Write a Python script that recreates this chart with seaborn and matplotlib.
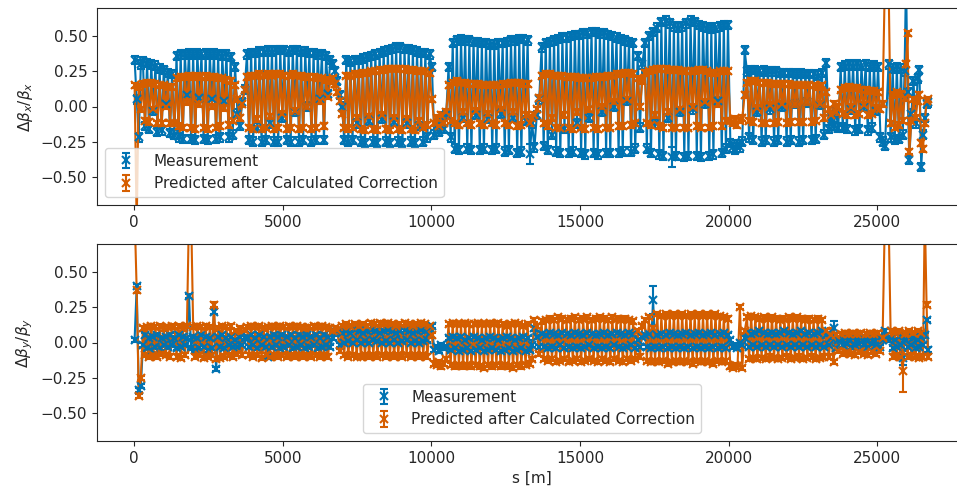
import numpy as np
import matplotlib
matplotlib.use("Agg")
import matplotlib.pyplot as plt
import seaborn as sns

# ---------------- data ----------------
# BPM longitudinal positions s [m]
s_pos = [
    20, 90, 160, 230,
    300, 370, 440, 510, 580, 650, 720, 790, 860, 930, 1000, 1070, 1140, 1210, 1280,
    1360, 1430, 1500, 1570, 1640, 1710, 1780, 1850, 1920, 1990, 2060, 2130, 2200, 2270, 2340,
    2410, 2480, 2550, 2620, 2690, 2760, 2830, 2900, 2970, 3040, 3110, 3180, 3250, 3320,
    3400, 3480, 3560, 3640, 3720,
    3800, 3870, 3940, 4010, 4080, 4150, 4220, 4290, 4360, 4430, 4500, 4570, 4640, 4710, 4780,
    4850, 4920, 4990, 5060, 5130, 5200, 5270, 5340, 5410, 5480, 5550, 5620, 5690, 5760, 5830,
    5900, 5970, 6040, 6110, 6180, 6250, 6320, 6390, 6460, 6530, 6600,
    6680, 6760, 6840, 6920,
    7000, 7070, 7140, 7210, 7280, 7350, 7420, 7490, 7560, 7630, 7700, 7770, 7840, 7910, 7980,
    8050, 8120, 8190, 8260, 8330, 8400, 8470, 8540, 8610, 8680, 8750, 8820, 8890, 8960, 9030,
    9100, 9170, 9240, 9310, 9380, 9450, 9520, 9590, 9660, 9730, 9800, 9870, 9940,
    10020, 10100, 10180, 10260, 10340, 10420, 10500,
    10580, 10650, 10720, 10790, 10860, 10930, 11000, 11070, 11140, 11210, 11280, 11350, 11420,
    11490, 11560, 11630, 11700, 11770, 11840, 11910, 11980, 12050, 12120, 12190, 12260, 12330,
    12400, 12470, 12540, 12610, 12680, 12750, 12820, 12890, 12960, 13030, 13100, 13170, 13240, 13310,
    13390, 13470, 13550, 13630,
    13710, 13780, 13850, 13920, 13990, 14060, 14130, 14200, 14270, 14340, 14410, 14480, 14550,
    14620, 14690, 14760, 14830, 14900, 14970, 15040, 15110, 15180, 15250, 15320, 15390, 15460,
    15530, 15600, 15670, 15740, 15810, 15880, 15950, 16020, 16090, 16160, 16230, 16300, 16370,
    16440, 16510, 16580, 16650, 16720, 16790, 16860,
    16940, 17020, 17100,
    17180, 17250, 17320, 17390, 17460, 17530, 17600, 17670, 17740, 17810, 17880, 17950, 18020,
    18090, 18160, 18230, 18300, 18370, 18440, 18510, 18580, 18650, 18720, 18790, 18860, 18930,
    19000, 19070, 19140, 19210, 19280, 19350, 19420, 19490, 19560, 19630, 19700, 19770, 19840,
    19910, 19980,
    20060, 20140, 20220, 20300, 20380, 20460, 20540,
    20620, 20690, 20760, 20830, 20900, 20970, 21040, 21110, 21180, 21250, 21320, 21390, 21460,
    21530, 21600, 21670, 21740, 21810, 21880, 21950, 22020, 22090, 22160, 22230, 22300, 22370,
    22440, 22510, 22580, 22650, 22720, 22790, 22860, 22930, 23000, 23070, 23140, 23210,
    23290, 23370, 23450, 23530, 23610, 23690,
    23770, 23840, 23910, 23980, 24050, 24120, 24190, 24260, 24330, 24400, 24470, 24540, 24610,
    24680, 24750, 24820, 24890, 24960, 25030,
    25110, 25180, 25260, 25380,
    25450, 25520, 25590, 25660, 25730, 25800, 25860, 25920,
    25970, 26020, 26080, 26150, 26220, 26290, 26360, 26420, 26480, 26540, 26600, 26660, 26710,
]

# horizontal beta-beating, measurement (x 0.01)
bx_meas = [
    33, 5, -22, 30,
    32, -14, 31, -16, 30, -3, 29, -18, 27, -17, 26, 2, 24, -19, 23,
    -20, 36, -22, 37, -23, 37, 8, 38, -23, 37, -24, 38, 6, 37, -23, 38, -24, 37, 5, 38,
    -23, 37, -22, 36, 4, 37, -22, 35, -20,
    28, -5, -14, 3, 12,
    37, -24, 38, -25, 38, -15, 39, -25, 39, -24, 40, -12, 39, -25, 40, -25, 40, -8, 40, -24,
    39, -25, 40, -4, 40, -25, 39, -24, 39, 0, 38, -25, 38, -24, 37, 5, 37, -24, 36, 9, 33,
    30, 25, 18, 8,
    0, -24, 33, -25, 32, -24, 33, -12, 33, -25, 34, -26, 35, -10, 36, -25, 37, -26, 38, -9,
    39, -25, 40, -26, 41, -11, 42, -25, 42, -26, 41, -12, 41, -25, 40, -26, 39, -14, 38, -25,
    38, -22, 37,
    28, -20, -14, -18, -10, -16, -6,
    28, -22, 45, -30, 47, -31, 48, -8, 47, -30, 47, -31, 46, -6, 46, -31, 45, -30, 45, -9,
    44, -31, 44, -30, 45, -5, 45, -32, 46, -31, 47, -8, 47, -33, 48, -32, 48, -10, 47, -34,
    -12, -29, -6, 5,
    42, -28, 45, -31, 46, -20, 47, -32, 48, -33, 49, -16, 49, -33, 50, -32, 51, -12, 51, -33,
    52, -34, 52, -8, 53, -33, 53, -34, 52, -4, 52, -33, 51, -33, 50, 0, 49, -33, 48, -32,
    47, 4, 46, -32, 45, -30,
    36, -15, 30,
    45, -30, 50, -33, 53, -12, 56, -34, 60, -35, 61, -8, 59, -36, 57, -35, 56, -4, 57, -36,
    59, -35, 61, -2, 60, -35, 58, -36, 57, 2, 56, -35, 55, -34, 56, 4, 57, -33, 58, -30, 58,
    -26, -29, -31, -27, -29, -25, 40,
    25, -22, 26, -24, 26, -4, 25, -25, 26, -24, 25, -2, 25, -25, 25, -24, 24, 0, 24, -25,
    24, -24, 24, 2, 23, -25, 24, -24, 23, 3, 23, -24, 23, -23, 22, 1, 24, -20,
    31, -16, -8, -14, -4, -15,
    28, -15, 29, -16, 30, -2, 29, -17, 30, -16, 29, 0, 30, -17, 28, -15, 29, -3, 28,
    -22, -25, -28, 30,
    -22, 27, -24, 28, -23, 27, -20, 25,
    92, 10, -38, -5, 18, -12, 20, 26, -43, -20, -8, 2, 3,
]

# horizontal beta-beating, predicted after correction (x 0.01)
bx_pred = [
    15, -85, 14, -2,
    16, -10, 17, -11, 17, -2, 16, -12, 15, -12, 15, 0, 14, -12, 14,
    -12, 20, -14, 21, -15, 21, 3, 22, -15, 21, -16, 22, 2, 21, -15, 22, -16, 21, 0, 21,
    -15, 20, -14, 20, -1, 19, -13, 18, -10,
    15, 5, -8, 2, 12,
    21, -15, 22, -16, 22, -9, 23, -16, 22, -15, 23, -7, 22, -16, 23, -15, 23, -5, 22, -16,
    22, -15, 23, -3, 22, -16, 22, -15, 21, 0, 21, -16, 21, -15, 20, 4, 20, -14, 19, 7, 18,
    20, 16, 10, 4,
    -5, -15, 22, -16, 22, -15, 23, -8, 23, -16, 24, -17, 24, -7, 25, -16, 25, -17, 26, -6,
    26, -16, 27, -17, 27, -8, 27, -16, 27, -17, 27, -9, 26, -16, 26, -17, 25, -10, 25, -15,
    25, -13, 24,
    5, -12, -8, -14, -6, -12, -4,
    15, -10, 17, -12, 18, -13, 17, -4, 17, -12, 16, -13, 16, -3, 16, -12, 15, -13, 15, -5,
    15, -12, 15, -13, 15, -2, 16, -12, 16, -13, 17, -4, 17, -14, 17, -13, 16, -6, 16, -12,
    -8, -6, -2, 6,
    22, -12, 23, -14, 23, -8, 22, -15, 22, -15, 22, -6, 21, -15, 21, -16, 21, -4, 20, -15,
    20, -16, 20, -2, 20, -15, 21, -16, 21, 0, 21, -15, 22, -15, 22, 3, 23, -14, 23, -14,
    24, 5, 24, -13, 23, -12,
    20, 0, 18,
    24, -12, 25, -13, 26, -6, 27, -14, 27, -15, 27, -4, 26, -15, 26, -15, 26, -2, 25, -15,
    25, -15, 25, 0, 25, -14, 26, -15, 26, 3, 25, -15, 24, -14, 24, 2, 25, -14, 25, -10, 25,
    -10, -12, -9, -13, -10, -8, 8,
    17, -10, 18, -11, 18, -1, 17, -12, 17, -12, 17, 1, 16, -12, 16, -11, 16, 2, 16, -12,
    16, -11, 15, 2, 15, -11, 15, -11, 15, 3, 15, -11, 15, -10, 14, 2, 15, -8,
    10, -2, -6, 2, -4, 0,
    12, -5, 13, -6, 14, 0, 13, -6, 13, -5, 12, 1, 12, -6, 11, -5, 11, -1, 10,
    -2, 2, 92, 92,
    -12, 8, -15, 10, -13, 9, -10, 6,
    30, 52, -32, -10, 5, -8, 4, 8, -26, -30, -12, 4, 5,
]

# vertical beta-beating, measurement (x 0.01)
by_meas = [
    2, 40, -34, -31,
    -2, 5, -4, 3, -5, 4, -3, 5, -4, 3, -2, 4, -3, 5, -2,
    3, -4, 5, -3, 4, -2, 3, 33, -4, 4, -5, 3, -4, 5, -3, 4, -5, 3, -4, 22,
    -19, 4, -3, 5, -4, 3, -2, 4, -3,
    2, -3, 4, -2, 3,
    4, -3, 5, -2, 3, -4, 5, -2, 4, -3, -10, 4, -3, 5, -2, 4, -4, 5, -3, 4,
    -2, 5, -4, 3, -3, 5, -2, 4, -4, 5, -3, 4, -2, 5, -4, 3, -3, 5, -2, 4, -3,
    3, 7, 8, -2,
    7, 0, 8, 1, 7, 0, 9, 2, 8, 0, 7, 1, 8, 0, 9, 2, 8, 1, 7, 0,
    8, 1, 9, 0, 8, 2, 7, 0, 8, 1, 9, 2, 8, 0, 7, 1, 8, 0, 9, 1, 8, 2, 7,
    12, -5, -3, -6, -2, -4, -3,
    3, -5, 4, -4, 3, -6, 4, -5, 2, -4, 3, -6, 4, -5, 3, -4, 2, -6, 3, -5,
    4, -4, 3, -5, 2, -6, 3, -5, 4, -4, 3, -6, 2, -5, 3, -4, 4, -6, 3, -5,
    -2, 10, 4, -3,
    6, -3, 5, -4, 7, -3, 6, -4, 5, -2, 7, -4, 6, -3, 5, -4, 7, -3, 6, -4,
    5, -3, 7, -2, 6, -4, 5, -3, 6, -4, 7, -3, 5, -4, 6, -2, 7, -3, 6, -4,
    5, -3, 7, -2, 6, -4,
    2, -3, 4,
    5, -3, 6, -4, 30, -3, 5, -4, 6, -3, 5, -4, 7, -3, 6, -4, 5, -3, 6, -4,
    7, -3, 5, -4, 6, -3, 7, -4, 5, -3, 6, -4, 7, -3, 5, -4, 6, -3, 7, -4, 5,
    2, -3, -2, -4, 0, -2, 3,
    7, -3, 6, -2, 7, -3, 8, -2, 7, -3, 6, -2, 7, -3, 6, -2, 7, -3, 8, -2,
    7, -3, 6, -2, 7, -3, 8, -2, 6, -3, 7, -2, 6, -3, 7, -2, 8, -3,
    5, -2, 3, 10, -4, 2,
    2, -2, 3, -1, 2, -3, 3, -2, 2, -1, 3, -2, 2, -3, 3, -1, 2, -2, 3,
    -3, 2, 8, 2,
    3, -4, 2, -3, 4, -2, -11, 2,
    2, -3, 4, -2, 3, -4, 2, -3, 4, -2, 5, 16, -5,
]

# vertical beta-beating, predicted after correction (x 0.01)
by_pred = [
    92, 37, -38, -25,
    10, -9, 11, -10, 12, -9, 11, -10, 12, -8, 10, -9, 11, -10, 12,
    11, -10, 12, -11, 10, -9, 12, 92, 92, 11, -10, 12, -9, 11, -11, 12, -10, 11, -9, 27,
    -12, 10, -11, 12, -10, 11, -9, 12, -10,
    8, -8, 10, -9, 9,
    11, -9, 12, -10, 11, -9, 12, -11, 10, -9, 11, -10, 12, -9, 11, -10, 12, -9, 11, -10,
    12, -9, 11, -10, 12, -9, 11, -10, 10, -9, 11, -10, 12, -9, 11, -10, 12, -9, 11, -10, 10,
    8, 10, 9, -6,
    12, -9, 13, -10, 12, -9, 13, -10, 12, -10, 13, -9, 12, -10, 14, -9, 13, -10, 14, -9,
    13, -10, 14, -9, 13, -10, 12, -9, 13, -10, 14, -9, 13, -10, 12, -9, 13, -10, 14, -9,
    13, -10, 12,
    5, -15, -16, -14, -17, -15, -12,
    13, -16, 14, -17, 13, -16, 13, -17, 14, -16, 13, -17, 13, -16, 14, -17, 13, -18, 13, -16,
    14, -17, 13, -16, 14, -17, 13, -16, 12, -17, 13, -18, 14, -16, 13, -17, 12, -16, 13, -15,
    -12, 16, 12, -8,
    15, -12, 16, -13, 17, -12, 16, -14, 18, -13, 17, -12, 16, -14, 17, -13, 18, -12, 16, -14,
    17, -13, 18, -12, 16, -13, 17, -14, 18, -12, 17, -13, 16, -14, 18, -12, 17, -13, 16, -14,
    17, -12, 16, -13, 15, -12,
    8, -10, 12,
    16, -13, 18, -14, 10, -13, 20, -14, 19, -13, 20, -15, 19, -14, 20, -13, 19, -14, 20, -13,
    19, -14, 20, -15, 19, -13, 20, -14, 19, -13, 20, -14, 19, -15, 20, -13, 19, -14, 18, -13, 17,
    -17, -18, -16, -17, 25, -18, 8,
    18, -12, 19, -11, 18, -12, 17, -11, 18, -12, 17, -10, 18, -11, 17, -12, 16, -11, 17, -10,
    18, -12, 17, -11, 18, -10, 17, -12, 16, -11, 17, -10, 16, -12, 17, -11, 16, -10,
    8, -10, 5, -14, 5, -6,
    6, -8, 7, -7, 6, -8, 7, -9, 6, -7, 7, -8, 6, -9, 7, -7, 6, -8, 7,
    -6, 3, 92, 92,
    8, -10, 7, -9, 8, -10, -20, 6,
    7, -10, 8, -9, 7, -10, 8, -11, 7, -10, 92, 27, -10,
]

# typical error bars and the few larger ones (s position -> error)
err_bx_meas, err_bx_pred = 0.03, 0.02
err_by_meas, err_by_pred = 0.015, 0.015
big_err_bx_meas = {13310: 0.07, 18090: 0.07}
big_err_by_meas = {17460: 0.10, 23530: 0.05, 25860: 0.05}
big_err_by_pred = {23450: 0.05, 25860: 0.15}

labels = ["Measurement", "Predicted after Calculated Correction"]
ylabels = [r"$\Delta\beta_x/\beta_x$", r"$\Delta\beta_y/\beta_y$"]
xlabel = "s [m]"

# ---------------- plotting ----------------
sns.set_style("ticks")
plt.rcParams["font.family"] = ["DejaVu Sans"]
plt.rcParams["font.size"] = 11

pal = sns.color_palette("colorblind")
c_meas, c_pred = pal[0], pal[3]

s = np.asarray(s_pos, dtype=float)
for name, arr in [("bx_meas", bx_meas), ("bx_pred", bx_pred),
                  ("by_meas", by_meas), ("by_pred", by_pred)]:
    assert len(arr) == len(s), (name, len(arr), len(s))


def make_err(base, overrides):
    e = np.full(len(s), base)
    for pos, val in overrides.items():
        e[np.argmin(np.abs(s - pos))] = val
    return e


W, H = 957, 488
fig = plt.figure(figsize=(W / 100, H / 100), dpi=100)
ax1 = fig.add_axes([97 / W, 1 - 205 / H, (967 - 97) / W, (205 - 8) / H])
ax2 = fig.add_axes([97 / W, 1 - 441 / H, (967 - 97) / W, (441 - 244) / H])

panels = [
    (ax1, bx_meas, bx_pred, make_err(err_bx_meas, big_err_bx_meas),
     make_err(err_bx_pred, {}), "lower left", ylabels[0]),
    (ax2, by_meas, by_pred, make_err(err_by_meas, big_err_by_meas),
     make_err(err_by_pred, big_err_by_pred), "lower center", ylabels[1]),
]

for ax, meas, pred, e_m, e_p, loc, ylab in panels:
    for vals, err, col, lab in [(meas, e_m, c_meas, labels[0]),
                                (pred, e_p, c_pred, labels[1])]:
        y = np.asarray(vals, dtype=float) / 100.0
        sns.lineplot(x=s, y=y, ax=ax, color=col, lw=1.5, sort=False,
                     estimator=None, legend=False)
        ax.errorbar(s, y, yerr=err, fmt="x", color=col, ecolor=col,
                    capsize=3, ms=6, mew=1.5, elinewidth=1.5, label=lab)
    ax.set_xlim(-1245, 28020)
    ax.set_ylim(-0.7, 0.7)
    ax.set_yticks([-0.5, -0.25, 0.0, 0.25, 0.5])
    ax.set_ylabel(ylab)
    ax.set_xlabel("")
    ax.legend(loc=loc, fontsize=11)
    for sp in ax.spines.values():
        sp.set_visible(True)

ax2.set_xlabel(xlabel)
fig.savefig("out.png", dpi=100)
